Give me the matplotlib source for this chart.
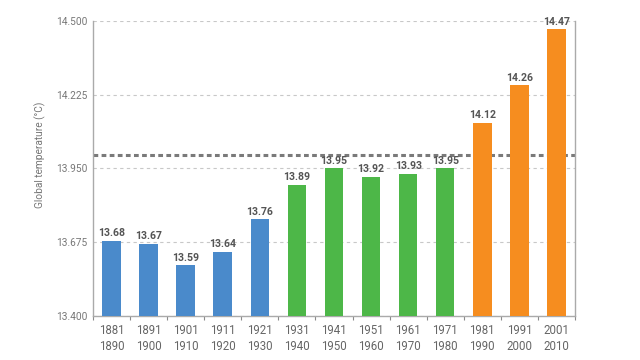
import matplotlib
matplotlib.use("Agg")
import matplotlib.pyplot as plt
import numpy as np

decades = ["1881\n1890", "1891\n1900", "1901\n1910", "1911\n1920", "1921\n1930",
           "1931\n1940", "1941\n1950", "1951\n1960", "1961\n1970", "1971\n1980",
           "1981\n1990", "1991\n2000", "2001\n2010"]
temps = [13.68, 13.67, 13.59, 13.64, 13.76, 13.89, 13.95, 13.92, 13.93, 13.95,
         14.12, 14.26, 14.47]
groups = ["blue"] * 5 + ["green"] * 5 + ["orange"] * 3
yticks = [13.400, 13.675, 13.950, 14.225, 14.500]
baseline = 14.0

palette = {"blue": "#4a8acb", "green": "#4db748", "orange": "#f68d1f"}
grey = "#8a8a8a"

plt.rcParams["font.family"] = ["Roboto", "DejaVu Sans"]

fig = plt.figure(figsize=(6.4, 3.6), dpi=100)
ax = fig.add_axes([0.1453, 0.1222, 0.7531, 0.8195])

x = np.arange(len(temps))
ax.bar(x, temps, width=0.5, bottom=0, color=[palette[g] for g in groups], zorder=3)

for xi, t in zip(x, temps):
    ax.text(xi, t + 0.009, f"{t:.2f}", ha="center", va="bottom",
            fontsize=7.6, fontweight="bold", color="#555555", zorder=4)

ax.axhline(baseline, color="#7a7a7a", lw=2.2, ls=(0, (1.55, 1.1)), zorder=2)

ax.set_ylim(13.4, 14.5)
ax.set_xlim(-0.5, len(temps) - 0.5)
ax.set_yticks(yticks)
ax.set_yticklabels([f"{v:.3f}" for v in yticks])
ax.yaxis.grid(True, ls=(0, (3, 3)), color="#c8c8c8", lw=0.8, zorder=0)
ax.tick_params(axis="y", length=0, labelsize=7.3, labelcolor="#777777", pad=4)

ax.set_xticks(x)
ax.set_xticklabels(decades, linespacing=1.3)
ax.set_xticks(np.arange(len(temps) + 1) - 0.5, minor=True)
ax.tick_params(axis="x", which="major", length=0, labelsize=8.3, labelcolor="#666666", pad=6)
ax.tick_params(axis="x", which="minor", length=3, color=grey, width=0.8)

ax.set_ylabel("Global temperature (°C)", fontsize=7.3, color="#777777")
ax.yaxis.set_label_coords(-0.098, 0.546)

for side in ["left", "right", "bottom"]:
    ax.spines[side].set_color("#aaaaaa")
    ax.spines[side].set_linewidth(1.0)
ax.spines["top"].set_visible(False)

fig.savefig("out.png", dpi=100)
